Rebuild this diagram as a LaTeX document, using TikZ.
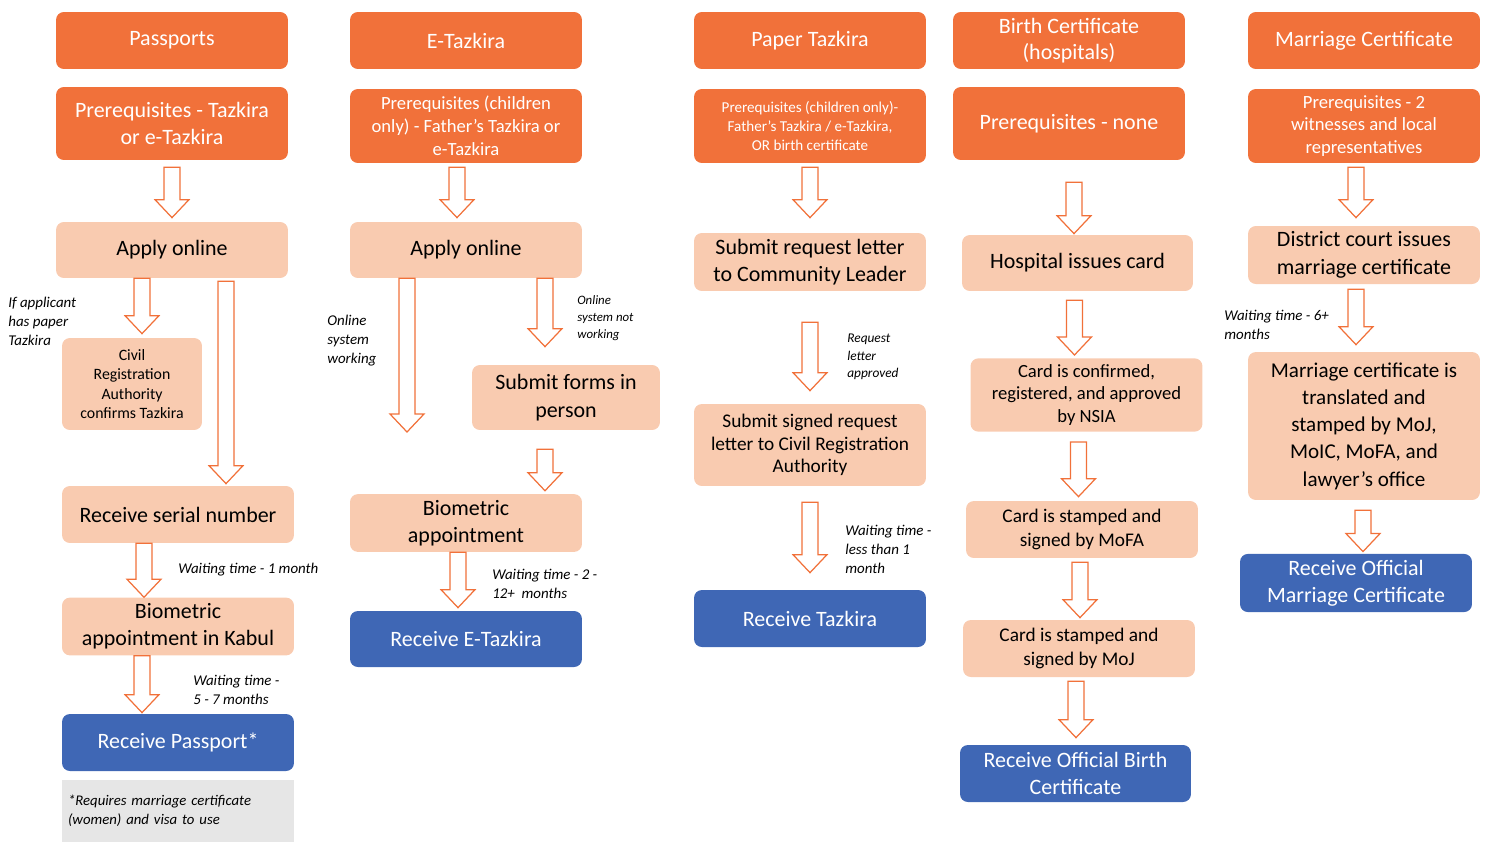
\documentclass[tikz,border=0pt]{standalone}
\usepackage{fontspec}
\setmainfont{Carlito}
\usetikzlibrary{calc}
\definecolor{hdorange}{HTML}{F1713A}
\definecolor{peach}{HTML}{F9CBB0}
\definecolor{resblue}{HTML}{3F67B5}
\definecolor{notegray}{HTML}{E6E6E6}
\tikzstyle{head} = [rectangle, rounded corners=4.5pt, fill=hdorange, text=white, align=center, minimum width=4.64cm, minimum height=1.14cm, font=\fontsize{12.5}{15}\selectfont]
\tikzstyle{prereq} = [head, minimum height=1.46cm]
\tikzstyle{stepbox} = [rectangle, rounded corners=4.5pt, fill=peach, text=black, align=center, minimum width=4.64cm, minimum height=1.14cm, font=\fontsize{12.5}{15.6}\selectfont]
\tikzstyle{result} = [stepbox, fill=resblue, text=white]
\tikzstyle{lbl} = [anchor=west, align=left, inner sep=0pt, font=\fontsize{8.5}{10.8}\selectfont\itshape]
\tikzstyle{hollow} = [draw=hdorange, fill=white, line width=0.7pt, line join=miter]
% block arrow from #1 straight down to the height of #2
\newcommand{\hollowarrow}[2]{%
  \draw[hollow] let \p1=(#1), \p2=(#2) in
    (\x1-0.16cm,\y1) -- (\x1-0.16cm,\y2+0.36cm) -- (\x1-0.34cm,\y2+0.36cm) -- (\x1,\y2)
    -- (\x1+0.34cm,\y2+0.36cm) -- (\x1+0.16cm,\y2+0.36cm) -- (\x1+0.16cm,\y1) -- cycle;}
\begin{document}
\begin{tikzpicture}[x=0.02cm,y=-0.02cm]
  \useasboundingbox (0,0) rectangle (1489,842);

  % Passports
  \node (pass) [head] at (172,40.5) {Passports};
  \node (pre1) [prereq] at (172,123.5) {Prerequisites - Tazkira\\or e-Tazkira};
  \node (ao1) [stepbox, minimum height=1.12cm] at (172,250) {Apply online};
  \node (cra) [stepbox, minimum width=2.8cm, minimum height=1.84cm, font=\fontsize{9}{11}\selectfont] at (132,384) {Civil\\Registration\\Authority\\confirms Tazkira};
  \node (sn) [stepbox] at (178,514.5) {Receive serial number};
  \node (bio1) [stepbox] at (178,626.5) {Biometric\\appointment in Kabul};
  \node (rp) [result] at (178,742.5) {Receive Passport*};
  \node (note) [rectangle, fill=notegray, minimum width=4.64cm, minimum height=1.24cm, text width=4.4cm, align=left, font=\fontsize{8.4}{11}\selectfont\itshape] at (178,811) {*Requires marriage certificate\\(women) and visa to use};
  \node (lpaper) [lbl] at (8,321) {If applicant\\has paper\\Tazkira};
  \node (lw1) [lbl] at (178,570) {Waiting time - 1 month};
  \node (lw2) [lbl] at (193,690) {Waiting time -\\5 - 7 months};

  \hollowarrow{$(pre1.south)+(0,7)$}{$(ao1.north)+(0,-4)$}
  \hollowarrow{$(ao1.south)+(-30,0)$}{$(cra.north)+(0,-4)$}
  \hollowarrow{$(ao1.south)+(54,3)$}{$(sn.north)+(0,-2)$}
  \hollowarrow{$(sn.south)+(-34,0)$}{bio1.north}
  \hollowarrow{$(bio1.south)+(-36,0)$}{$(rp.north)+(0,-1)$}

  % E-Tazkira
  \node (et) [head] at (466,40.5) {E-Tazkira};
  \node (pre2) [prereq, minimum height=1.48cm, font=\fontsize{10.6}{13}\selectfont] at (466,126) {Prerequisites (children\\only) - Father's Tazkira or\\e-Tazkira};
  \node (ao2) [stepbox, minimum height=1.12cm] at (466,250) {Apply online};
  \node (sf) [stepbox, minimum width=3.76cm, minimum height=1.3cm] at (566,397.5) {Submit forms in\\person};
  \node (bio2) [stepbox, minimum height=1.12cm] at (466,523) {Biometric\\appointment};
  \node (re) [result, minimum height=1.12cm] at (466,639) {Receive E-Tazkira};
  \coordinate (ow) at (407,432);
  \node (lon) [lbl] at (327,341) {Online\\system\\working};
  \node (loff) [lbl, font=\fontsize{7.3}{9.5}\selectfont\itshape] at (577,318) {Online\\system not\\working};
  \node (lw3) [lbl] at (492,584) {Waiting time - 2 -\\12+ \ months};

  \hollowarrow{$(pre2.south)+(-9,4)$}{$(ao2.north)+(0,-4)$}
  \hollowarrow{$(ao2.south)+(-59,0)$}{ow}
  \hollowarrow{$(ao2.south)+(79,0)$}{$(sf.north)+(0,-18)$}
  \hollowarrow{$(sf.south)+(-21,19)$}{$(bio2.north)+(0,-3)$}
  \hollowarrow{$(bio2.south)+(-8,0)$}{$(re.north)+(0,-3)$}

  % Paper Tazkira
  \node (pt) [head] at (810,40.5) {Paper Tazkira};
  \node (pre3) [prereq, minimum height=1.48cm, font=\fontsize{8.6}{11}\selectfont] at (810,126) {Prerequisites (children only)-\\Father's Tazkira / e-Tazkira,\\OR birth certificate};
  \node (srl) [stepbox, minimum height=1.16cm] at (810,262) {Submit request letter\\to Community Leader};
  \node (ssr) [stepbox, minimum height=1.64cm, font=\fontsize{11}{13}\selectfont] at (810,445) {Submit signed request\\letter to Civil Registration\\Authority};
  \node (rt) [result] at (810,618.5) {Receive Tazkira};
  \node (lreq) [lbl, font=\fontsize{7.6}{9.8}\selectfont\itshape] at (847,357) {Request\\letter\\approved};
  \node (lw4) [lbl] at (845,549) {Waiting time -\\less than 1\\month};

  \hollowarrow{$(pre3.south)+(0,4)$}{$(srl.north)+(0,-15)$}
  \hollowarrow{$(srl.south)+(0,31)$}{$(ssr.north)+(0,-13)$}
  \hollowarrow{$(ssr.south)+(0,16)$}{$(rt.north)+(0,-17)$}

  % Birth certificate
  \node (bc) [head] at (1069,40.5) {Birth Certificate\\(hospitals)};
  \node (pre4) [prereq] at (1069,123.5) {Prerequisites - none};
  \node (hic) [stepbox, minimum width=4.62cm, minimum height=1.12cm] at (1077.5,263) {Hospital issues card};
  \node (ccr) [stepbox, minimum height=1.4cm, font=\fontsize{10.6}{13}\selectfont] at (1086.5,395) {Card is confirmed,\\registered, and approved\\by NSIA};
  \node (msfa) [stepbox, font=\fontsize{11}{13.5}\selectfont] at (1082,529.5) {Card is stamped and\\signed by MoFA};
  \node (mj) [stepbox, font=\fontsize{11}{13.5}\selectfont] at (1079,648.5) {Card is stamped and\\signed by MoJ};
  \node (rob) [result, minimum width=4.62cm] at (1075.5,773.5) {Receive Official Birth\\Certificate};

  \hollowarrow{$(pre4.south)+(5,22)$}{$(hic.north)+(0,-1)$}
  \hollowarrow{$(hic.south)+(-3,9)$}{$(ccr.north)+(0,-3)$}
  \hollowarrow{$(ccr.south)+(-8,10)$}{$(msfa.north)+(0,-4)$}
  \hollowarrow{$(msfa.south)+(-2,4)$}{$(mj.north)+(0,-2)$}
  \hollowarrow{$(mj.south)+(-3,4)$}{$(rob.north)+(0,-7)$}

  % Marriage certificate
  \node (mc) [head] at (1364,40.5) {Marriage Certificate};
  \node (pre5) [prereq, minimum height=1.48cm, font=\fontsize{10.6}{13}\selectfont] at (1364,126) {Prerequisites - 2\\witnesses and local\\representatives};
  \node (dc) [stepbox, minimum height=1.16cm] at (1364,255) {District court issues\\marriage certificate};
  \node (mct) [stepbox, minimum height=2.96cm, font=\fontsize{12}{15.5}\selectfont] at (1364,426) {Marriage certificate is\\translated and\\stamped by MoJ,\\MoIC, MoFA, and\\lawyer's office};
  \node (rom) [result, minimum height=1.12cm] at (1356,583) {Receive Official\\Marriage Certificate};
  \node (lw5) [lbl] at (1224,325) {Waiting time - 6+\\months};

  \hollowarrow{$(pre5.south)+(-8,4)$}{$(dc.north)+(0,-8)$}
  \hollowarrow{$(dc.south)+(-8,5)$}{$(mct.north)+(0,-7)$}
  \hollowarrow{$(mct.south)+(-1,10)$}{$(rom.north)+(0,-2)$}
\end{tikzpicture}
\end{document}
